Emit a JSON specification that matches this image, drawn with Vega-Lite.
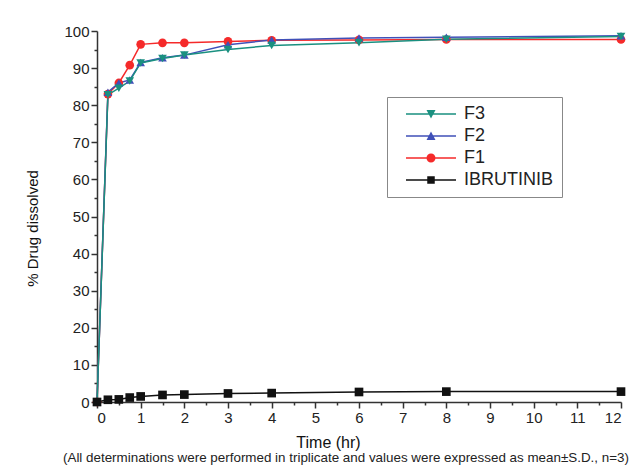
{
  "$schema": "https://vega.github.io/schema/vega-lite/v6.json",
  "width": 524,
  "height": 371,
  "autosize": {"type": "none"},
  "padding": {"left": 97, "top": 31, "right": 21, "bottom": 68},
  "background": "white",
  "config": {
    "font": "Liberation Sans",
    "view": {"stroke": null},
    "axis": {"grid": false, "domainColor": "#333", "domainWidth": 1.5, "tickColor": "#333", "tickWidth": 1.5, "labelColor": "#222", "titleColor": "#111", "labelFont": "Liberation Sans", "titleFont": "Liberation Sans"}
  },
  "title": {
    "text": "(All determinations were performed in triplicate and values were expressed as mean±S.D., n=3)",
    "orient": "bottom", "anchor": "start", "frame": "group", "dx": -34, "offset": 1,
    "fontSize": 13.4, "fontWeight": "normal", "color": "#222", "font": "Liberation Sans"
  },
  "data": {"values": [
    {"t": 0, "v": 0, "s": "F1"}, {"t": 0.25, "v": 83, "s": "F1"}, {"t": 0.5, "v": 86, "s": "F1"}, {"t": 0.75, "v": 90.8, "s": "F1"}, {"t": 1, "v": 96.4, "s": "F1"}, {"t": 1.5, "v": 96.8, "s": "F1"}, {"t": 2, "v": 96.8, "s": "F1"}, {"t": 3, "v": 97.2, "s": "F1"}, {"t": 4, "v": 97.5, "s": "F1"}, {"t": 6, "v": 97.6, "s": "F1"}, {"t": 8, "v": 97.7, "s": "F1"}, {"t": 12, "v": 97.7, "s": "F1"},
    {"t": 0, "v": 0, "s": "F2"}, {"t": 0.25, "v": 83.5, "s": "F2"}, {"t": 0.5, "v": 86, "s": "F2"}, {"t": 0.75, "v": 86.8, "s": "F2"}, {"t": 1, "v": 91.5, "s": "F2"}, {"t": 1.5, "v": 92.8, "s": "F2"}, {"t": 2, "v": 93.5, "s": "F2"}, {"t": 3, "v": 96.3, "s": "F2"}, {"t": 4, "v": 97.6, "s": "F2"}, {"t": 6, "v": 98.1, "s": "F2"}, {"t": 8, "v": 98.3, "s": "F2"}, {"t": 12, "v": 98.7, "s": "F2"},
    {"t": 0, "v": 0, "s": "F3"}, {"t": 0.25, "v": 82.8, "s": "F3"}, {"t": 0.5, "v": 84.6, "s": "F3"}, {"t": 0.75, "v": 86.5, "s": "F3"}, {"t": 1, "v": 91.4, "s": "F3"}, {"t": 1.5, "v": 92.6, "s": "F3"}, {"t": 2, "v": 93.5, "s": "F3"}, {"t": 3, "v": 95, "s": "F3"}, {"t": 4, "v": 96.1, "s": "F3"}, {"t": 6, "v": 96.8, "s": "F3"}, {"t": 8, "v": 97.8, "s": "F3"}, {"t": 12, "v": 98.5, "s": "F3"},
    {"t": 0, "v": 0, "s": "IBRUTINIB"}, {"t": 0.25, "v": 0.6, "s": "IBRUTINIB"}, {"t": 0.5, "v": 0.7, "s": "IBRUTINIB"}, {"t": 0.75, "v": 1.2, "s": "IBRUTINIB"}, {"t": 1, "v": 1.5, "s": "IBRUTINIB"}, {"t": 1.5, "v": 1.9, "s": "IBRUTINIB"}, {"t": 2, "v": 2.0, "s": "IBRUTINIB"}, {"t": 3, "v": 2.3, "s": "IBRUTINIB"}, {"t": 4, "v": 2.4, "s": "IBRUTINIB"}, {"t": 6, "v": 2.7, "s": "IBRUTINIB"}, {"t": 8, "v": 2.8, "s": "IBRUTINIB"}, {"t": 12, "v": 2.8, "s": "IBRUTINIB"}
  ]},
  "layer": [
    {
      "mark": {"type": "line", "strokeWidth": 1.5, "clip": false},
      "encoding": {
        "x": {"field": "t", "type": "quantitative", "scale": {"domain": [0, 12], "nice": false},
          "axis": {"values": [0,1,2,3,4,5,6,7,8,9,10,11,12], "tickSize": 6, "labelFontSize": 15, "labelPadding": 2, "title": "Time (hr)", "titleFontSize": 16, "titleFontWeight": "normal", "titleX": 231, "titleY": 32, "titleBaseline": "top", "titleAnchor": "middle"}},
        "y": {"field": "v", "type": "quantitative", "scale": {"domain": [0, 100], "nice": false},
          "axis": {"values": [0,10,20,30,40,50,60,70,80,90,100], "tickSize": 6, "labelFontSize": 15, "labelPadding": 2, "title": "% Drug dissolved", "titleFontSize": 15, "titleFontWeight": "normal", "titleX": -57, "titleY": 197, "titleAnchor": "middle"}},
        "stroke": {"field": "s", "type": "nominal",
          "scale": {"domain": ["F3", "F2", "F1", "IBRUTINIB"], "range": ["#1a9080", "#4050b8", "#f52a2a", "#111111"]},
          "legend": null}
      }
    },
    {
      "mark": {"type": "point", "filled": true, "opacity": 1, "size": 75, "clip": false},
      "encoding": {
        "x": {"field": "t", "type": "quantitative", "axis": {"values": [0.5,1.5,2.5,3.5,4.5,5.5,6.5,7.5,8.5,9.5,10.5,11.5], "orient": "bottom", "tickSize": 3, "labels": false, "domain": false, "title": null}},
        "y": {"field": "v", "type": "quantitative", "axis": {"values": [5,15,25,35,45,55,65,75,85,95], "orient": "left", "tickSize": 3, "labels": false, "domain": false, "title": null}},
        "fill": {"field": "s", "type": "nominal",
          "scale": {"domain": ["F3", "F2", "F1", "IBRUTINIB"], "range": ["#1a9080", "#4050b8", "#f52a2a", "#111111"]},
          "legend": null},
        "shape": {"field": "s", "type": "nominal", "legend": null,
          "scale": {"domain": ["F3", "F2", "F1", "IBRUTINIB"], "range": ["triangle-down", "triangle-up", "circle", "square"]}}
      }
    },
    {
      "mark": {"type": "point", "filled": true, "opacity": 0},
      "encoding": {
        "x": {"field": "t", "type": "quantitative", "axis": null},
        "y": {"field": "v", "type": "quantitative", "axis": null},
        "color": {"field": "s", "type": "nominal",
          "scale": {"domain": ["F3", "F2", "F1", "IBRUTINIB"], "range": ["#1a9080", "#4050b8", "#f52a2a", "#111111"]},
          "legend": {"orient": "none", "legendX": 290, "legendY": 66, "title": null, "strokeColor": "#888", "padding": 8, "labelFontSize": 18, "labelFont": "Liberation Sans", "labelColor": "#222", "symbolSize": 100, "symbolOpacity": 1, "rowPadding": 4, "labelOffset": 51}},
        "shape": {"field": "s", "type": "nominal",
          "scale": {"domain": ["F3", "F2", "F1", "IBRUTINIB"], "range": [
            "M0.4,-0.15L10.4,-0.15L10.4,0.15L0.4,0.15ZM4.5,-0.8L6.3,-0.8L5.4,0.9Z",
            "M0.4,-0.15L10.4,-0.15L10.4,0.15L0.4,0.15ZM6.3,0.8L4.5,0.8L5.4,-0.9Z",
            "M0.4,-0.15L10.4,-0.15L10.4,0.15L0.4,0.15ZM4.5,0A0.9,0.9 0 1,1 6.3,0A0.9,0.9 0 1,1 4.5,0Z",
            "M0.4,-0.15L10.4,-0.15L10.4,0.15L0.4,0.15ZM4.65,-0.75L6.15,-0.75L6.15,0.75L4.65,0.75Z"]},
          "legend": {"orient": "none", "legendX": 290, "legendY": 66, "title": null, "strokeColor": "#888", "padding": 8, "labelFontSize": 18, "labelFont": "Liberation Sans", "labelColor": "#222", "symbolSize": 100, "symbolOpacity": 1, "rowPadding": 4, "labelOffset": 51}}
      }
    }
  ],
  "resolve": {"axis": {"x": "independent", "y": "independent"}, "scale": {"shape": "independent", "color": "independent"}}
}
